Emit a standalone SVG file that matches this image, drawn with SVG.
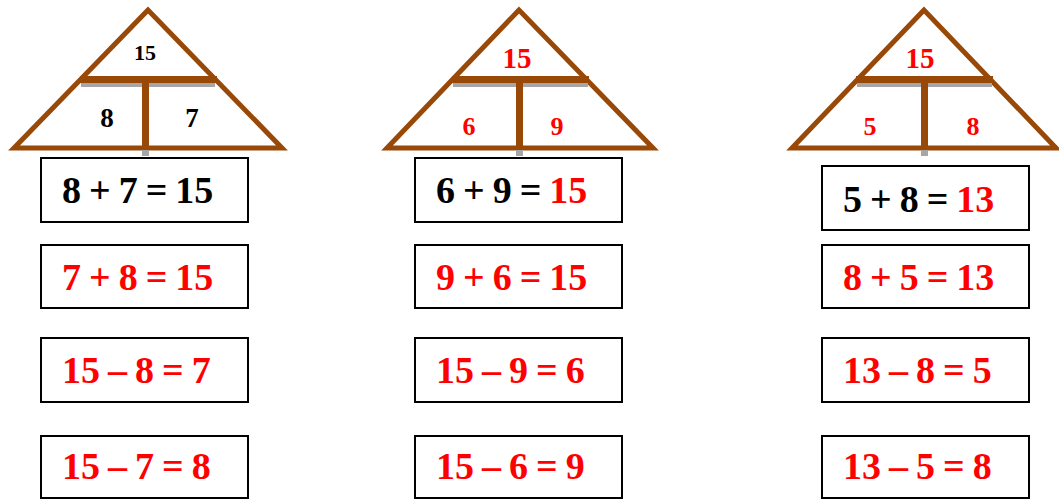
<svg xmlns="http://www.w3.org/2000/svg" width="1059" height="500" viewBox="0 0 1059 500">
<style>
.tri{fill:#fff;stroke:#984807;stroke-width:5;stroke-linejoin:miter}
.bar{fill:#984807}
.sh{fill:#a6a6a6}
.box{fill:#fff;stroke:#000;stroke-width:2}
.eq{font-family:"Liberation Serif","Times New Roman",serif;font-weight:bold;font-size:38px;word-spacing:-1.5px}
.n{font-family:"Liberation Serif","Times New Roman",serif;font-weight:bold;text-anchor:middle}
.r{fill:#ff0000}
.k{fill:#000}
</style>
<rect width="1059" height="500" fill="#fff"/>
<g id="house1">
<polygon class="tri" points="148,10 14,148 282,148"/>
<rect class="sh" x="81" y="83" width="134" height="4"/>
<rect class="bar" x="80" y="76" width="137" height="7"/>
<rect class="sh" x="142" y="148" width="7" height="8"/>
<rect class="bar" x="142" y="83" width="7" height="67"/>
<text class="n k" x="145" y="60" font-size="22">15</text>
<text class="n k" x="107" y="127" font-size="27">8</text>
<text class="n k" x="192" y="127" font-size="27">7</text>
</g>
<g id="house2">
<polygon class="tri" points="519,10 387,148 653,148"/>
<rect class="sh" x="453" y="83" width="135" height="4"/>
<rect class="bar" x="452" y="76" width="137" height="7"/>
<rect class="sh" x="516" y="148" width="7" height="8"/>
<rect class="bar" x="516" y="83" width="7" height="67"/>
<text class="n r" x="517" y="68" font-size="29">15</text>
<text class="n r" x="469" y="135" font-size="26">6</text>
<text class="n r" x="557" y="135" font-size="26">9</text>
</g>
<g id="house3">
<polygon class="tri" points="924,10 792,148 1056,148"/>
<rect class="sh" x="857" y="83" width="135" height="4"/>
<rect class="bar" x="856" y="76" width="137" height="7"/>
<rect class="sh" x="921" y="148" width="7" height="8"/>
<rect class="bar" x="921" y="83" width="7" height="67"/>
<text class="n r" x="920" y="68" font-size="29">15</text>
<text class="n r" x="870" y="135" font-size="26">5</text>
<text class="n r" x="973" y="135" font-size="26">8</text>
</g>
<g id="col1">
<rect class="box" x="41" y="158" width="207" height="64"/>
<text class="eq k" x="62" y="203">8 + 7 = 15</text>
<rect class="box" x="41" y="245" width="207" height="63"/>
<text class="eq r" x="62" y="290">7 + 8 = 15</text>
<rect class="box" x="41" y="338" width="207" height="64"/>
<text class="eq r" x="62" y="383">15 – 8 = 7</text>
<rect class="box" x="41" y="436" width="207" height="62"/>
<text class="eq r" x="62" y="479">15 – 7 = 8</text>
</g>
<g id="col2">
<rect class="box" x="415" y="158" width="207" height="64"/>
<text class="eq k" x="436" y="203">6 + 9 = <tspan class="r">15</tspan></text>
<rect class="box" x="415" y="245" width="207" height="63"/>
<text class="eq r" x="436" y="290">9 + 6 = 15</text>
<rect class="box" x="415" y="338" width="207" height="64"/>
<text class="eq r" x="436" y="383">15 – 9 = 6</text>
<rect class="box" x="415" y="436" width="207" height="62"/>
<text class="eq r" x="436" y="479">15 – 6 = 9</text>
</g>
<g id="col3">
<rect class="box" x="822" y="166" width="207" height="64"/>
<text class="eq k" x="843" y="212">5 + 8 = <tspan class="r">13</tspan></text>
<rect class="box" x="822" y="245" width="207" height="63"/>
<text class="eq r" x="843" y="290">8 + 5 = 13</text>
<rect class="box" x="822" y="338" width="207" height="64"/>
<text class="eq r" x="843" y="383">13 – 8 = 5</text>
<rect class="box" x="822" y="436" width="207" height="62"/>
<text class="eq r" x="843" y="479">13 – 5 = 8</text>
</g>
<g id="connectors"></g>
</svg>
